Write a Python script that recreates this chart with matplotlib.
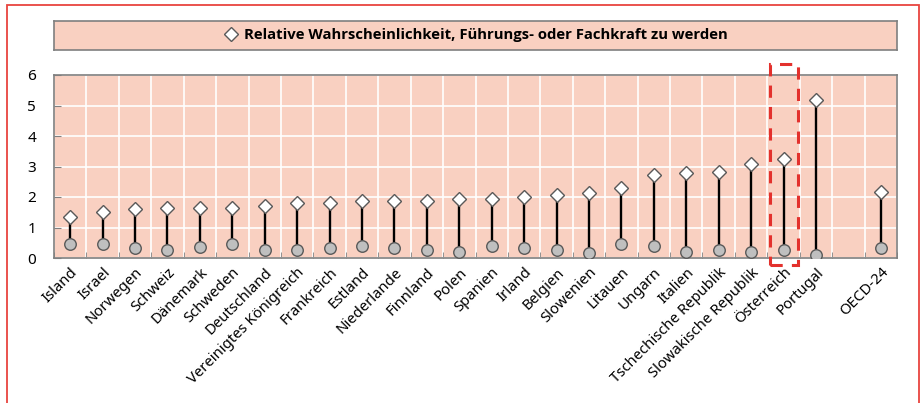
import matplotlib
matplotlib.use("Agg")
import matplotlib.pyplot as plt
from matplotlib.lines import Line2D
from matplotlib.patches import Rectangle
import numpy as np

plt.rcParams['font.family'] = ['Noto Sans', 'DejaVu Sans']

# data
countries = ["Island", "Israel", "Norwegen", "Schweiz", "Dänemark", "Schweden",
             "Deutschland", "Vereinigtes Königreich", "Frankreich", "Estland",
             "Niederlande", "Finnland", "Polen", "Spanien", "Irland", "Belgien",
             "Slowenien", "Litauen", "Ungarn", "Italien", "Tschechische Republik",
             "Slowakische Republik", "Österreich", "Portugal", "", "OECD-24"]
rel_prob = [1.33, 1.52, 1.60, 1.64, 1.64, 1.64, 1.69, 1.81, 1.81, 1.87,
            1.87, 1.87, 1.93, 1.93, 1.99, 2.07, 2.12, 2.30, 2.72, 2.78,
            2.83, 3.08, 3.25, 5.18, None, 2.17]
base = [0.45, 0.45, 0.32, 0.26, 0.37, 0.45, 0.26, 0.26, 0.32, 0.39,
        0.32, 0.26, 0.21, 0.39, 0.32, 0.26, 0.15, 0.45, 0.39, 0.21,
        0.26, 0.21, 0.26, 0.10, None, 0.32]
highlight = "Österreich"
legend_label = "Relative Wahrscheinlichkeit, Führungs- oder Fachkraft zu werden"

bg = '#F9D0C1'
grey = '#7F7F7F'

fig = plt.figure(figsize=(9.22, 4.03), dpi=100)
ax = fig.add_axes([54/922, (403-258)/403, (897-54)/922, (258-75)/403])
ax.set_facecolor(bg)

x = np.arange(len(countries))
for xi, lo, hi in zip(x, base, rel_prob):
    if hi is None:
        continue
    ax.plot([xi, xi], [lo, hi], color='black', lw=1.7, zorder=3)
    ax.plot(xi, lo, 'o', ms=8.3, mfc='#BFBFBF', mec='#595959', mew=1, zorder=4)
    ax.plot(xi, hi, 'D', ms=7.2, mfc='white', mec='#595959', mew=1, zorder=5)

ax.set_xlim(-0.5, len(countries) - 0.5)
ax.set_ylim(0, 6)
ax.set_yticks(range(0, 7))
ax.set_xticks(x)
ax.set_xticklabels(countries, rotation=45, ha='right', rotation_mode='anchor', fontsize=10.7)
ax.set_xticks(np.arange(-0.5, len(countries), 1), minor=True)
ax.tick_params(axis='x', which='major', length=0, pad=5)
ax.tick_params(axis='x', which='minor', direction='in', length=4, color=grey)
ax.tick_params(axis='y', direction='in', length=5, color=grey, labelsize=11, pad=13)
ax.grid(True, which='minor', axis='x', color='white', lw=1.2)
ax.grid(True, which='major', axis='y', color='white', lw=1.2)
ax.set_axisbelow(True)
for s in ax.spines.values():
    s.set_color(grey)
    s.set_linewidth(1.2)

# dashed highlight box
hi_i = countries.index(highlight)
ax.add_patch(Rectangle((hi_i - 0.42, -0.23), 0.87, 6.59, fill=False,
                       edgecolor='#E3312D', lw=2.2, ls=(0, (4, 3)),
                       clip_on=False, zorder=6))

# legend box
lax = fig.add_axes([54/922, (403-50)/403, (897-54)/922, 29/403])
lax.set_facecolor(bg)
lax.set_xticks([])
lax.set_yticks([])
for s in lax.spines.values():
    s.set_color(grey)
    s.set_linewidth(1.2)
handle = Line2D([], [], ls='none', marker='D', ms=7.2, mfc='white', mec='#595959', mew=1)
leg = lax.legend([handle], [legend_label], loc='center', frameon=False,
                 handlelength=1.0, handletextpad=0.4,
                 prop={'family': 'Open Sans', 'weight': 'bold', 'size': 10.7})

# outer frame
fig.add_artist(Rectangle((7/922, -0.05), 912/922, (403-5)/403 + 0.05,
                         transform=fig.transFigure, fill=False,
                         edgecolor='#E8443F', lw=1.3))

fig.savefig('out.png', dpi=100)
